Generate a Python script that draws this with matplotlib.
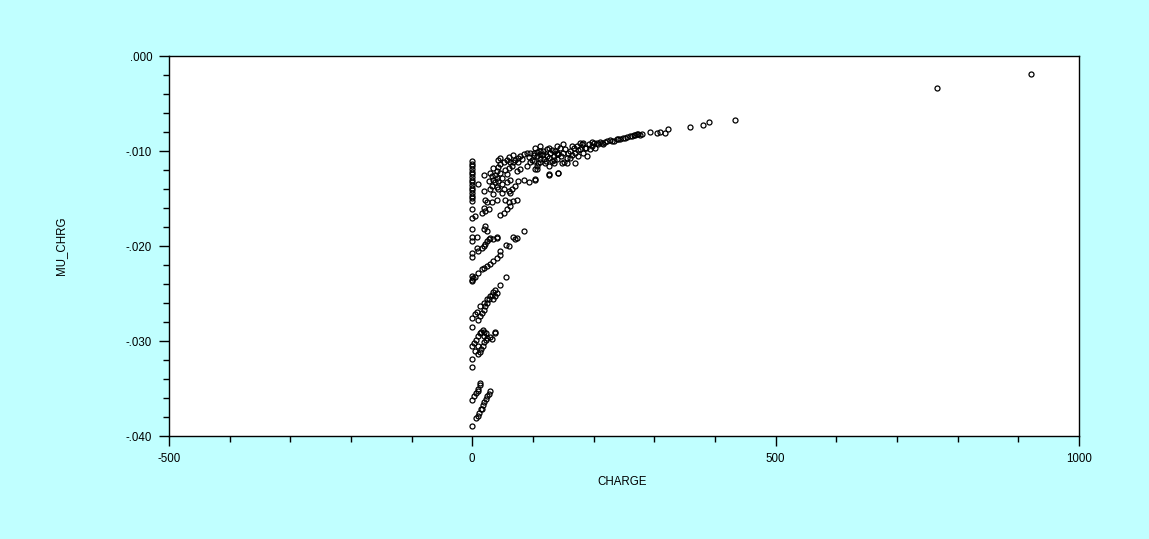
import matplotlib
matplotlib.use("Agg")
import matplotlib.pyplot as plt
from matplotlib.ticker import MultipleLocator, FuncFormatter

plt.rcParams['font.family'] = ['Liberation Sans', 'DejaVu Sans']

# points sitting at CHARGE ~ 0
mu_zero = [-.01105, -.01133, -.01161, -.01189, -.01218, -.01246, -.01274, -.01302,
           -.0133, -.01358, -.01386, -.01414, -.01443, -.01471, -.01499, -.01527,
           -.01614, -.01702, -.01825, -.01902, -.01949, -.02068, -.0212, -.02318,
           -.02353, -.0237, -.02757, -.02856, -.03056, -.03189, -.03278, -.03619,
           -.03893]

# (charge, mu) pairs, grouped by streak
low_streaks = [(6.6, -.0381), (8.8, -.0379), (11.5, -.0376), (14.3, -.0372), (16, -.0371),
               (17.6, -.0367), (19.8, -.0364), (22.6, -.0361), (24.2, -.0358), (26.9, -.0356),
               (29.7, -.0353), (3, -.0358), (6, -.0355), (9, -.0353), (10, -.0350),
               (12, -.0346), (13, -.0344)]

mid_low = [(3, -.0302), (6, -.0299), (9, -.0295), (12, -.0292), (14, -.0290), (17, -.0288),
           (9, -.0314), (12, -.0312), (14, -.0308), (17, -.0305), (20, -.0301), (23, -.0299),
           (25, -.0297), (30, -.0296), (38, -.0291), (32, -.0298), (5, -.0310), (10, -.0305),
           (19, -.0295), (22, -.0291)]

mid = [(10, -.0278), (13, -.0274), (16, -.0270), (19, -.0267), (21, -.0263), (24, -.0260),
       (27, -.0256), (30, -.0253), (32, -.0251), (35, -.0248), (38, -.0246), (46, -.0241),
       (56, -.0233), (8, -.0269), (5, -.0272), (13, -.0263), (19, -.0260), (24, -.0256),
       (35, -.0256), (38, -.0253), (41, -.0249), (19, -.0290), (38, -.0290)]

mid_high = [(8, -.0202), (10, -.0205), (16, -.0202), (19, -.0200), (21, -.0198), (24, -.0195),
            (27, -.0193), (30, -.0191), (35, -.0193), (41, -.0191), (46, -.0205), (45, -.0209),
            (40, -.0213), (35, -.0216), (30, -.0219), (24, -.0221), (20, -.0223), (16, -.0224),
            (10, -.0228), (5, -.0233), (2, -.0234), (56, -.0199), (60, -.0200), (71, -.0193),
            (74, -.0191)]

upper_mid = [(10, -.0135), (19, -.0125), (19, -.0142), (21, -.0151), (24, -.0154), (19, -.0160),
             (5, -.0168), (16, -.0165), (21, -.0163), (27, -.0161), (32, -.0154), (41, -.0151),
             (46, -.0167), (52, -.0165), (57, -.0161), (63, -.0158), (60, -.0154), (68, -.0153),
             (74, -.0151), (54, -.0151), (60, -.0142), (65, -.0140), (71, -.0137), (76, -.0132),
             (85, -.0130), (93, -.0133), (104, -.0130), (85, -.0184), (68, -.0190), (21, -.0179),
             (19, -.0182), (24, -.0184), (8, -.0190), (41, -.0190)]

cluster = [(30, -.0123), (32, -.0126), (35, -.0130), (38, -.0125), (41, -.0121), (43, -.0117),
           (46, -.0114), (43, -.0109), (46, -.0107), (52, -.0111), (57, -.0109), (63, -.0111),
           (65, -.0116), (68, -.0112), (71, -.0109), (76, -.0107), (79, -.0105), (85, -.0103),
           (90, -.0102), (96, -.0102), (101, -.0104), (107, -.0101), (112, -.0103), (117, -.0100),
           (123, -.0105), (129, -.0102), (134, -.0109), (140, -.0103), (32, -.0137), (38, -.0133),
           (43, -.0132), (49, -.0135), (52, -.0140), (57, -.0133), (63, -.0130), (74, -.0121),
           (79, -.0119), (90, -.0116), (76, -.0112), (107, -.0119), (126, -.0125), (142, -.0123),
           (27, -.0132), (43, -.0140), (49, -.0144), (63, -.0144), (96, -.0112), (112, -.0112),
           (35, -.0118), (40, -.0128), (46, -.0123), (49, -.0128), (54, -.0120), (57, -.0124),
           (60, -.0118), (30, -.0140), (35, -.0145), (41, -.0138)]

band = [(101, -.01016), (107, -.01052), (112, -.00999), (117, -.01034), (123, -.00981),
        (126, -.01069), (129, -.01016), (134, -.01052), (137, -.00999), (142, -.01034),
        (145, -.00963), (150, -.01016), (153, -.00981), (156, -.01069), (161, -.00999),
        (167, -.00963), (170, -.01016), (173, -.00946), (178, -.00981), (181, -.00928),
        (183, -.01016), (186, -.00963), (192, -.00928), (194, -.00981), (200, -.0091),
        (203, -.00963), (205, -.00918), (211, -.00904), (216, -.00928), (222, -.00894),
        (227, -.00883), (233, -.00894), (238, -.00876), (244, -.00876), (249, -.00858),
        (255, -.00847), (260, -.0084), (266, -.00833), (271, -.00823), (274, -.00823),
        (107, -.01157), (104, -.01192), (101, -.01105), (109, -.01121), (112, -.01087),
        (120, -.01121), (126, -.01157), (131, -.01105), (140, -.01087), (148, -.01121),
        (156, -.01121), (161, -.01069), (170, -.01121), (175, -.01052), (189, -.01052),
        (126, -.01245), (142, -.01227), (104, -.01298), (104, -.00963), (112, -.00946),
        (126, -.00963), (140, -.00946), (150, -.00928), (164, -.00946), (178, -.0091),
        (183, -.00918), (197, -.00904), (115, -.0104), (118, -.0108), (131, -.0099),
        (139, -.0102), (147, -.0105), (158, -.0102), (164, -.0104), (175, -.0099),
        (188, -.0097), (198, -.0095), (208, -.0093), (214, -.0091), (219, -.0090),
        (230, -.0089), (241, -.0087), (60, -.0106), (68, -.0104), (82, -.0108),
        (93, -.0106), (99, -.0109), (121, -.0110), (135, -.0113), (152, -.0111)]

tail = [(252, -.00858), (263, -.0084), (269, -.00833), (277, -.00833), (280, -.00823),
        (293, -.00799), (305, -.00812), (310, -.00799), (318, -.00805), (323, -.0077),
        (359, -.00742), (381, -.00728), (391, -.00699), (433, -.00672), (766, -.00338),
        (921, -.0019)]

charge = [0.0] * len(mu_zero)
mu = list(mu_zero)
for grp in [low_streaks, mid_low, mid, mid_high, upper_mid, cluster, band, tail]:
    charge += [p[0] for p in grp]
    mu += [p[1] for p in grp]

bg = '#c0ffff'
fig = plt.figure(figsize=(11.49, 5.39), dpi=100, facecolor=bg)
ax = fig.add_axes([0.147, 0.191, 0.792, 0.705])
ax.set_facecolor('white')

ax.plot(charge, mu, linestyle='none', marker='o', markersize=3.6,
        markerfacecolor='none', markeredgecolor='black', markeredgewidth=0.9)

ax.set_xlim(-500, 1000)
ax.set_ylim(-0.04, 0.0)
ax.xaxis.set_major_locator(MultipleLocator(500))
ax.xaxis.set_minor_locator(MultipleLocator(100))
ax.yaxis.set_major_locator(MultipleLocator(0.01))
ax.yaxis.set_minor_locator(MultipleLocator(0.002))

def yfmt(v, pos):
    s = '%.3f' % v
    if s == '-0.000':
        return '.000'
    return s.replace('0.', '.', 1)

ax.yaxis.set_major_formatter(FuncFormatter(yfmt))
ax.xaxis.set_major_formatter(FuncFormatter(lambda v, p: '%d' % v))

ax.tick_params(which='major', direction='out', length=7, width=1, labelsize=8.3, pad=5)
ax.tick_params(which='minor', direction='out', length=4, width=1)
for s in ax.spines.values():
    s.set_linewidth(1)

ax.set_xlabel('CHARGE', fontsize=8.3)
ax.set_ylabel('MU_CHRG', fontsize=8.3)
ax.xaxis.set_label_coords(0.498, -0.105)
ax.yaxis.set_label_coords(-0.112, 0.5)

fig.savefig('out.png', dpi=100, facecolor=bg)
